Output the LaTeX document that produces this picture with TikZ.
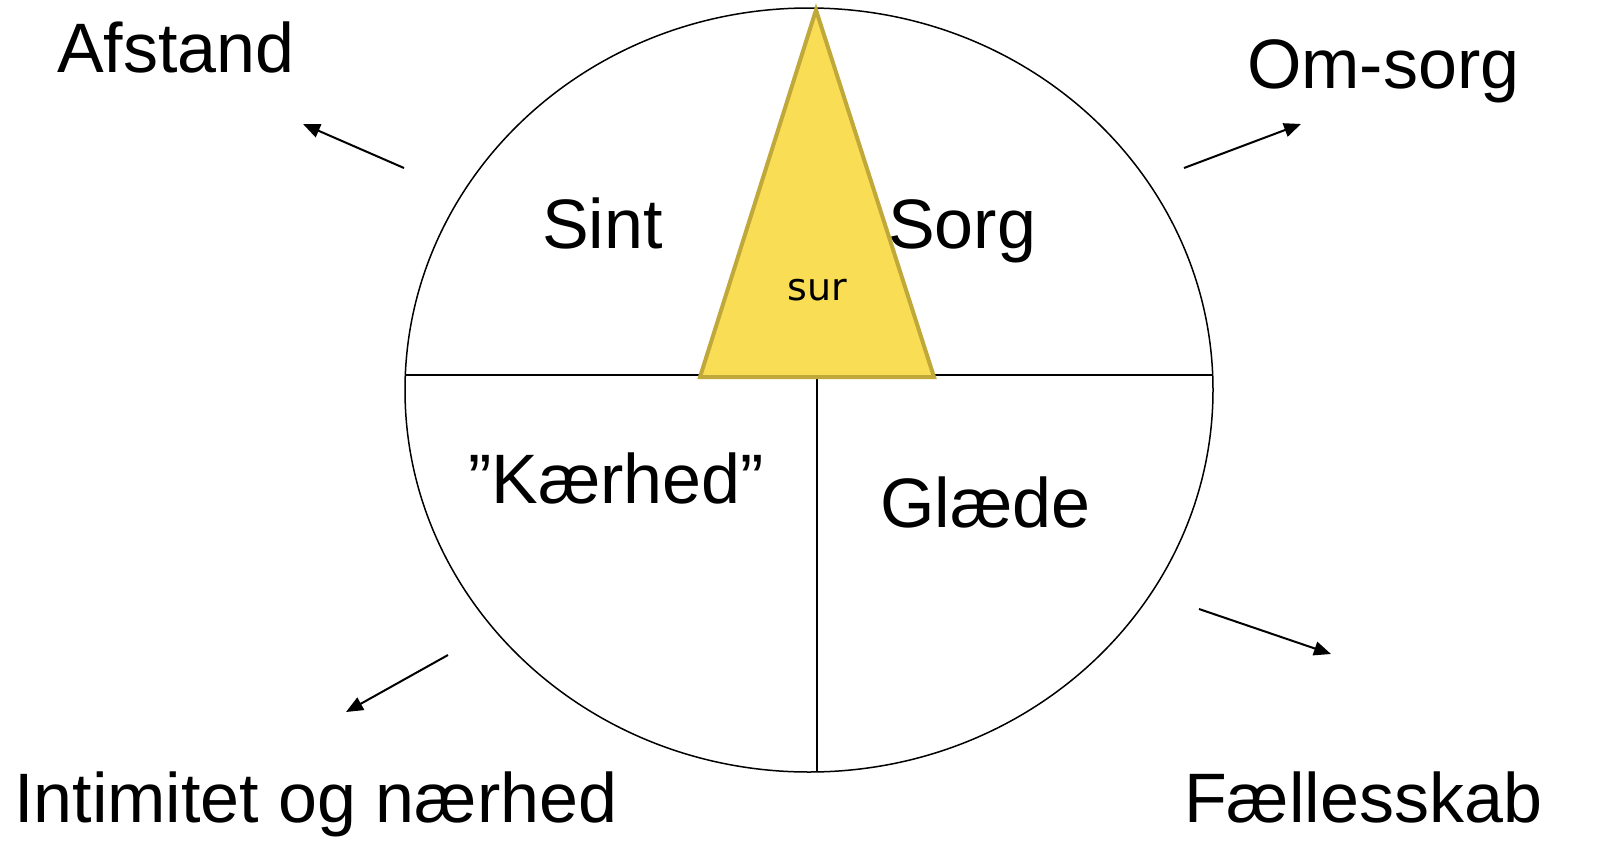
\documentclass[tikz,border=0pt]{standalone}
\usepackage{fontspec}
\setmainfont{Liberation Sans}
\newfontfamily\surfont{DejaVu Sans}
\usetikzlibrary{arrows.meta}
\definecolor{triFill}{HTML}{F9DE55}
\definecolor{triLine}{HTML}{C0A93A}
\begin{document}
\begin{tikzpicture}[x=1pt,y=-1pt,
  lbl/.style={anchor=base west,inner sep=0pt,font=\fontsize{70}{84}\selectfont},
  arr/.style={line width=2pt,-{Triangle[length=17pt,width=14pt]}},
  divider/.style={line width=1.3pt,black}]
\useasboundingbox (0,0) rectangle (1612,860);
% ellipse
\draw[line width=1.5pt] (809,390) ellipse [x radius=404, y radius=382];
% dividers
\coordinate (hl) at (405,375);
\coordinate (hr) at (1213,375);
\coordinate (vt) at (817,377);
\coordinate (vb) at (817,772);
\draw[divider] (hl) -- (hr);
\draw[divider] (vt) -- (vb);
% triangle
\coordinate (ta) at (816,10);
\coordinate (tl) at (700,377);
\coordinate (tr) at (934,377);
\draw[triLine,fill=triFill,line width=4pt,line join=miter] (ta) -- (tl) -- (tr) -- cycle;
\node[anchor=base,inner sep=0pt,font=\surfont\fontsize{38}{44}\selectfont] (sur) at (817,300) {sur};
% labels
\node[lbl] (afstand) at (57,72) {Afstand};
\node[lbl] (omsorg) at (1247,88) {Om-sorg};
\node[lbl] (sint) at (542,248) {Sint};
\node[lbl] (sorg) at (888,248) {Sorg};
\node[lbl] (kaerhed) at (468,503) {”Kærhed”};
\node[lbl] (glaede) at (880,527) {Glæde};
\node[lbl] (intim) at (14,822) {Intimitet og nærhed};
\node[lbl] (faelles) at (1184,822) {Fællesskab};
% arrows
\coordinate (a1s) at (404,168); \coordinate (a1e) at (303,124);
\coordinate (a2s) at (1184,168); \coordinate (a2e) at (1301,124);
\coordinate (a3s) at (448,655); \coordinate (a3e) at (346,712);
\coordinate (a4s) at (1199,609); \coordinate (a4e) at (1331,654);
\draw[arr] (a1s) -- (a1e);
\draw[arr] (a2s) -- (a2e);
\draw[arr] (a3s) -- (a3e);
\draw[arr] (a4s) -- (a4e);
\end{tikzpicture}
\end{document}
